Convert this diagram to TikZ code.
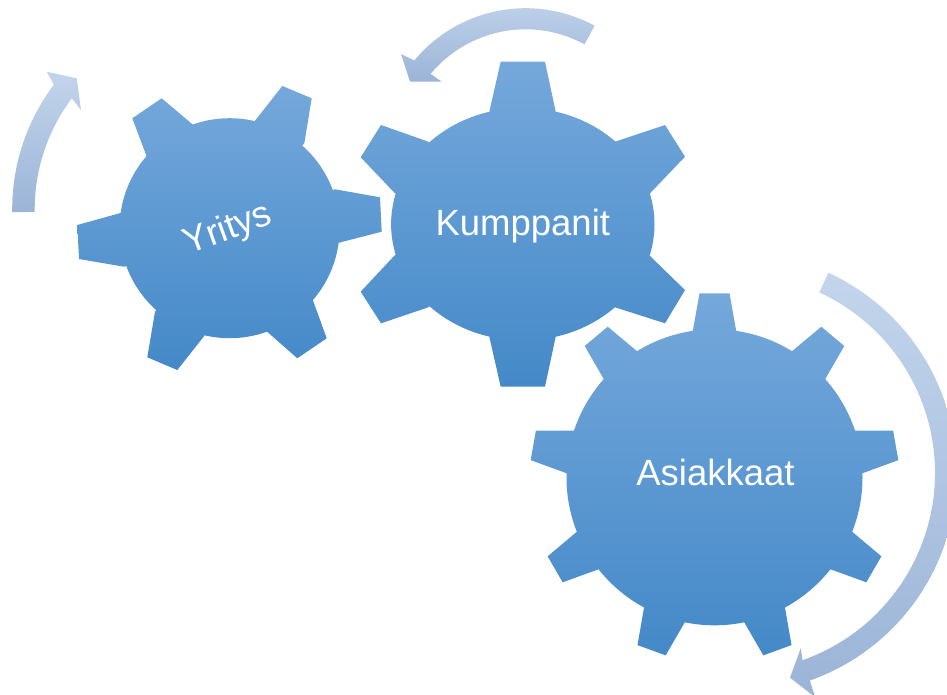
\documentclass[tikz,border=0pt]{standalone}
\usepackage{fontspec}
\setmainfont{Liberation Sans}
\definecolor{gearlight}{HTML}{75A8DB}
\definecolor{gearmid}{HTML}{5B9DDB}
\definecolor{geardark}{HTML}{4489C8}
\definecolor{turnlight}{HTML}{C3D5EC}
\definecolor{turndark}{HTML}{9BB4D7}

\begin{document}
\begin{tikzpicture}[
  x=1pt, y=-1pt,
  gearfill/.style={top color=gearlight, middle color=gearmid, bottom color=geardark},
  turnarrow/.style={top color=turnlight, bottom color=turndark},
  gearname/.style={text=white, font=\fontsize{36.5}{44}\selectfont, anchor=base, inner sep=0pt},
]
\fill[white] (0,0) rectangle (947,695);
\clip (0,0) rectangle (947,695);

\coordinate (c1) at (229.6,228.2);
\coordinate (c2) at (522.8,224.2);
\coordinate (c3) at (714.5,477.3);
\coordinate (a1) at (219.2,209.3);
\coordinate (a2) at (525.6,152.8);
\coordinate (a3) at (736.3,472.9);

% rotation arrows
\shade[turnarrow] ([shift={(a1)}]-180.8:207) arc[start angle=-180.8, end angle=-143, radius=207]
  -- (46.7,71.7) -- (76.7,78.3) -- (81,110)
  -- ([shift={(a1)}]-143:184.5) arc[start angle=-143, end angle=-180.8, radius=184.5] -- cycle;
\shade[turnarrow] ([shift={(a2)}]-61.5:144.6) arc[start angle=-61.5, end angle=-140.3, radius=144.6]
  -- (401,54) -- (410,81.7) -- (441.7,81.7)
  -- ([shift={(a2)}]-140.3:123.5) arc[start angle=-140.3, end angle=-61.5, radius=123.5] -- cycle;
\shade[turnarrow] ([shift={(a3)}]-65.3:220.3) arc[start angle=-65.3, end angle=70.5, radius=220.3]
  -- (815,697) -- (790,677.7) -- (800.7,648.3)
  -- ([shift={(a3)}]70.5:198.7) arc[start angle=70.5, end angle=-65.3, radius=198.7] -- cycle;

% gear 1
\shade[gearfill] (c1) circle (110)
  (148.3,160.7) -- (132.3,118.3) -- (161.7,98.3) -- (196,127.3) -- (c1) -- cycle
  (254.3,121.7) -- (282.3,86) -- (311.7,98.3) -- (304.3,143.3) -- (c1) -- cycle
  (335,189.3) -- (380,197.3) -- (381.7,231.7) -- (336.7,243.3) -- (c1) -- cycle
  (311,295) -- (326.7,338.3) -- (297.3,358.3) -- (263.3,328.3) -- (c1) -- cycle
  (205,335) -- (177.3,370) -- (147.3,357.3) -- (155,311.7) -- (c1) -- cycle
  (124,266.7) -- (79,259) -- (77.3,225) -- (121.7,212.7) -- (c1) -- cycle;

% gear 2
\shade[gearfill] (c2) ellipse [x radius=131.7, y radius=116.2]
  (489.3,111.7) -- (500.7,61.7) -- (545,61.7) -- (555.7,111.7) -- (c2) -- cycle
  (615,141.7) -- (665,125) -- (685,156.7) -- (650,193.3) -- (c2) -- cycle
  (650,256) -- (685,290) -- (665,323.3) -- (615,307.3) -- (c2) -- cycle
  (555.7,336.7) -- (545,386.7) -- (500.7,386.7) -- (489.3,336.7) -- (c2) -- cycle
  (428.3,307.3) -- (381,323.3) -- (360.7,291.7) -- (395,255) -- (c2) -- cycle
  (395,193.3) -- (360.7,157.3) -- (381,125) -- (428.3,141.7) -- (c2) -- cycle;

% gear 3
\shade[gearfill] (c3) circle (148)
  foreach \a in {90,50,...,-230} {
    ([shift={(c3)},rotate=\a]146.3,-21.7) -- ([shift={(c3)},rotate=\a]184,-15)
    -- ([shift={(c3)},rotate=\a]184,15) -- ([shift={(c3)},rotate=\a]146.3,21.7) -- (c3) -- cycle
  };

\node[gearname, rotate=20] (yritys) at (231,239) {Yritys};
\node[gearname] (kumppanit) at (522.8,235) {Kumppanit};
\node[gearname] (asiakkaat) at (715.5,485) {Asiakkaat};

\end{tikzpicture}
\end{document}
